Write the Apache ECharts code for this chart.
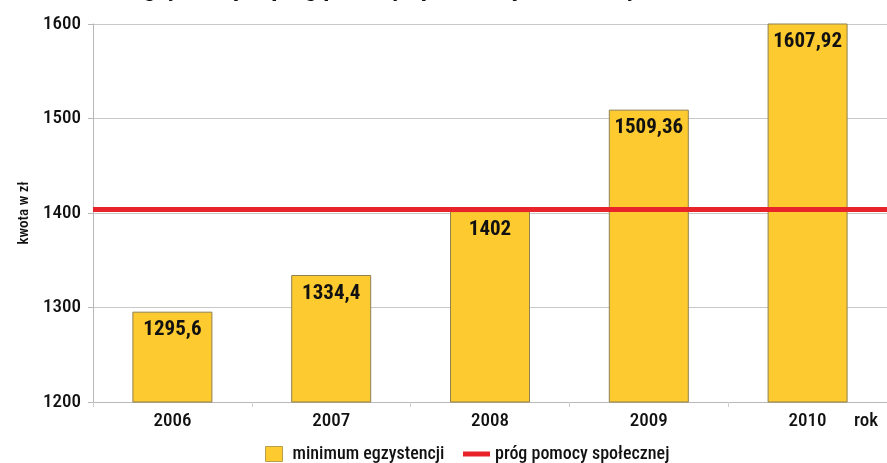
<!DOCTYPE html>
<html>
<head>
<meta charset="utf-8">
<script src="https://cdn.jsdelivr.net/npm/echarts@6/dist/echarts.min.js"></script>
<style>html,body{margin:0;padding:0;background:#fff}#c{width:887px;height:463px}</style>
</head>
<body>
<div id="c"></div>
<script>
const titleText = 'Minimum egzystencji a próg pomocy społecznej dla rodziny';
const years = ['2006', '2007', '2008', '2009', '2010'];
const minimumValues = [1295.6, 1334.4, 1402, 1509.36, 1607.92];
const thresholdValue = 1404;
const barName = 'minimum egzystencji';
const lineName = 'próg pomocy społecznej';
const yAxisName = 'kwota w zł';
const xAxisName = 'rok';

const FONT = '"Roboto Condensed", "Open Sans Condensed", sans-serif';
const chart = echarts.init(document.getElementById('c'), null, {renderer: 'canvas'});
const fmt = v => String(v).replace('.', ',');

chart.setOption({
  animation: false,
  textStyle: {fontFamily: FONT},
  title: {
    text: titleText, left: 25, top: -28,
    textStyle: {fontFamily: FONT, fontSize: 25.5, fontWeight: 'bold', color: '#111'}
  },
  grid: {left: 93, right: -4, top: 24, bottom: 61, containLabel: false},
  legend: [{
    data: [{name: barName, icon: 'rect'}], left: 265, top: 445, padding: 0, itemWidth: 17, itemHeight: 15, itemGap: 8,
    itemStyle: {borderColor: '#b8a04a', borderWidth: 1},
    textStyle: {fontFamily: FONT, fontWeight: 500, fontSize: 18, color: '#111', padding: [0, 0, 0, 5]}
  }, {
    data: [{name: lineName, icon: 'rect'}], left: 463, top: 445, padding: 0, itemWidth: 27, itemHeight: 5, itemGap: 6,
    textStyle: {fontFamily: FONT, fontWeight: 500, fontSize: 18, color: '#111'}
  }],
  xAxis: {
    type: 'category', data: years,
    name: xAxisName, nameLocation: 'end', nameGap: -33,
    nameTextStyle: {fontFamily: FONT, fontWeight: 500, fontSize: 19, color: '#111', verticalAlign: 'top', padding: [10, 0, 0, 0]},
    axisLine: {lineStyle: {color: '#b8b8b8', width: 1}},
    axisTick: {show: true, alignWithLabel: false, length: 5, lineStyle: {color: '#d0d0d0'}},
    axisLabel: {fontFamily: FONT, fontWeight: 500, fontSize: 19, color: '#111', margin: 10}
  },
  yAxis: {
    type: 'value', min: 1200, max: 1600, interval: 100,
    name: yAxisName, nameLocation: 'middle', nameGap: 61, nameRotate: 90,
    nameTextStyle: {fontFamily: FONT, fontWeight: 500, fontSize: 15, color: '#111'},
    axisLine: {show: true, lineStyle: {color: '#b8b8b8', width: 1}},
    axisTick: {show: true, length: 5, lineStyle: {color: '#b8b8b8'}},
    axisLabel: {fontFamily: FONT, fontWeight: 500, fontSize: 19, color: '#111', margin: 12, formatter: v => String(v)},
    splitLine: {lineStyle: {color: '#c8c8c8', width: 1}}
  },
  series: [{
    name: barName, type: 'bar', data: minimumValues, barWidth: 80,
    itemStyle: {color: '#fdca30', borderColor: '#8f8150', borderWidth: 1},
    label: {
      show: true, position: 'insideTop', distance: 8,
      formatter: p => fmt(p.value),
      fontFamily: FONT, fontSize: 21, fontWeight: 'bold', color: '#111'
    },
    z: 2
  }, {
    name: lineName, type: 'line', data: [], symbol: 'none',
    itemStyle: {color: '#e8242a'},
    lineStyle: {color: '#e8242a', width: 5},
    markLine: {
      silent: true, symbol: 'none', label: {show: false},
      lineStyle: {color: '#e8242a', width: 5, type: 'solid'},
      data: [{yAxis: thresholdValue}]
    },
    z: 5
  }]
});
</script>
</body>
</html>
